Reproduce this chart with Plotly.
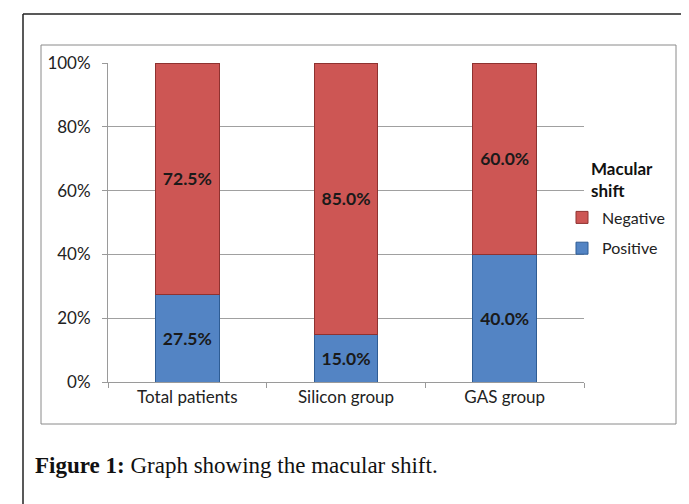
import plotly.graph_objects as go

categories = ["Total patients", "Silicon group", "GAS group"]
positive = [27.5, 15.0, 40.0]
negative = [72.5, 85.0, 60.0]
y_ticks = [0, 20, 40, 60, 80, 100]
y_tick_labels = ["0%", "20%", "40%", "60%", "80%", "100%"]

W, H = 689, 504
L, R, T, B = 100, 113, 55, 130
PW, PH = W - L - R, H - T - B

def px(x):
    return (x - L) / PW

def py(y):
    return (H - B - y) / PH

fig = go.Figure()
fig.add_trace(go.Bar(
    x=categories, y=positive, name="Positive", legendgroup="p", legendrank=2,
    marker=dict(color="#5384C4", line=dict(color="#2E5C94", width=1)),
    texttemplate="<b>%{y:.1f}%</b>", textposition="inside", insidetextanchor="middle",
    textfont=dict(family="Lato", size=17.5, color="#1a1a1a"), textangle=0,
))
fig.add_trace(go.Bar(
    x=categories, y=negative, name="Negative", legendgroup="n", legendrank=1,
    marker=dict(color="#CD5654", line=dict(color="#8E3230", width=1)),
    texttemplate="<b>%{y:.1f}%</b>", textposition="inside", insidetextanchor="middle",
    textfont=dict(family="Lato", size=17.5, color="#1a1a1a"), textangle=0,
))

shapes = [
    # outer frame
    dict(type="line", xref="paper", yref="paper", x0=px(15), x1=px(15), y0=py(6), y1=py(520),
         line=dict(color="#222222", width=1.5)),
    dict(type="line", xref="paper", yref="paper", x0=px(15), x1=px(685), y0=py(6), y1=py(6),
         line=dict(color="#222222", width=1.5)),
    dict(type="line", xref="paper", yref="paper", x0=px(685), x1=px(685), y0=py(6), y1=py(520),
         line=dict(color="#222222", width=1.5)),
    # inner chart frame
    dict(type="rect", xref="paper", yref="paper", x0=px(33), x1=px(668), y0=py(416), y1=py(37),
         line=dict(color="#8a8a8a", width=1), layer="below"),
]

fig.update_layout(
    width=W, height=H,
    margin=dict(l=L, r=R, t=T, b=B),
    paper_bgcolor="white", plot_bgcolor="white",
    barmode="stack", bargap=0.6,
    font=dict(family="Lato", size=16, color="#222"),
    shapes=shapes,
    showlegend=True,
    legend=dict(
        x=px(554), y=py(225), xanchor="left", yanchor="middle",
        traceorder="grouped", tracegroupgap=7,
        font=dict(family="Lato", size=16, color="#222"),
        itemwidth=30, bgcolor="rgba(0,0,0,0)",
    ),
    annotations=[
        dict(xref="paper", yref="paper", x=px(581), y=py(171), xanchor="left", yanchor="middle",
             showarrow=False, align="left",
             text="<b>Macular<br>shift</b>",
             font=dict(family="Lato", size=17, color="#111")),
        dict(xref="paper", yref="paper", x=px(25), y=py(457), xanchor="left", yanchor="middle",
             showarrow=False,
             text="<b>Figure 1:</b> Graph showing the macular shift.",
             font=dict(family="Liberation Serif", size=23, color="#111")),
    ],
)

fig.update_xaxes(
    type="category", showgrid=False, showline=True, linecolor="#9a9a9a", linewidth=1,
    ticks="outside", tickson="boundaries", ticklen=5, tickcolor="#9a9a9a",
    tickfont=dict(family="Lato", size=17, color="#222"),
)
fig.update_yaxes(
    range=[0, 100], tickvals=y_ticks, ticktext=y_tick_labels, showgrid=True, gridcolor="#a0a0a0",
    showline=True, linecolor="#9a9a9a", linewidth=1, ticks="outside", ticklen=5,
    tickcolor="#9a9a9a", tickfont=dict(family="Lato", size=17, color="#222"), zeroline=False,
    ticklabelstandoff=8,
)

fig.write_html("out.html")
